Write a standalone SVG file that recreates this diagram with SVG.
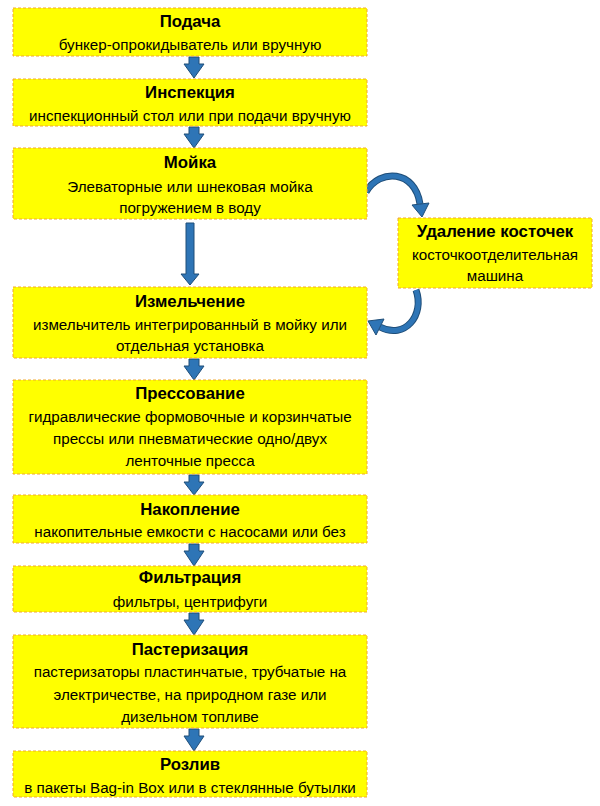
<svg xmlns="http://www.w3.org/2000/svg" width="600" height="806" viewBox="0 0 600 806">
<style>
.box{fill:#ffff00;stroke:#f0a830;stroke-width:1;stroke-dasharray:3,2}
.t{font-family:"Liberation Sans",Arial,sans-serif;font-size:16.8px;font-weight:bold;fill:#000;text-anchor:middle}
.s{font-family:"Liberation Sans",Arial,sans-serif;font-size:15.2px;fill:#000;text-anchor:middle}
.arr{fill:#2e75b6;stroke:#1f4e79;stroke-width:1}
.curve{fill:none;stroke:#2e75b6;stroke-width:5}
.curveo{fill:none;stroke:#1f4e79;stroke-width:7}
</style>
<rect width="600" height="806" fill="#fff"/>
<g id="connectors">
<polygon class="arr" points="189,57 199,57 199,64 204,64 194,78 184,64 189,64"/>
<polygon class="arr" points="189,127 199,127 199,134 204,134 194,148 184,134 189,134"/>
<polygon class="arr" points="186,223 194,223 194,274 199,274 190,285 181,274 186,274"/>
<polygon class="arr" points="189,359 199,359 199,366 204,366 194,380 184,366 189,366"/>
<polygon class="arr" points="189,475 199,475 199,482 204,482 194,495 184,482 189,482"/>
<polygon class="arr" points="189,544 199,544 199,551 204,551 194,566 184,551 189,551"/>
<polygon class="arr" points="189,613 199,613 199,620 204,620 194,635 184,620 189,620"/>
<polygon class="arr" points="189,729 199,729 199,736 204,736 194,751 184,736 189,736"/>
<path class="curveo" d="M366,192 C380,168 415,170 420,204"/>
<path class="curve" d="M366,192 C380,168 415,170 420,204"/>
<polygon class="arr" points="429,203 412,205 422,217"/>
<path class="curveo" d="M416,290 C425,315 405,340 380,327"/>
<path class="curve" d="M416,290 C425,315 405,340 380,327"/>
<polygon class="arr" points="384,319 376,335 368,321"/>
</g>
<g id="n1"><rect class="box" x="13" y="8" width="354" height="48"/><text class="t" x="190" y="27">Подача</text><text class="s" x="190" y="50">бункер-опрокидыватель или вручную</text></g>
<g id="n2"><rect class="box" x="13" y="79" width="354" height="47"/><text class="t" x="190" y="98">Инспекция</text><text class="s" x="190" y="121">инспекционный стол или при подачи вручную</text></g>
<g id="n3"><rect class="box" x="13" y="148" width="354" height="71"/><text class="t" x="190" y="168">Мойка</text><text class="s" x="190" y="192">Элеваторные или шнековая мойка</text><text class="s" x="190" y="213">погружением в воду</text></g>
<g id="n4"><rect class="box" x="13" y="287" width="354" height="71"/><text class="t" x="190" y="307">Измельчение</text><text class="s" x="190" y="330">измельчитель интегрированный в мойку или</text><text class="s" x="190" y="351">отдельная установка</text></g>
<g id="n5"><rect class="box" x="13" y="380" width="354" height="94"/><text class="t" x="190" y="399">Прессование</text><text class="s" x="190" y="422">гидравлические формовочные и корзинчатые</text><text class="s" x="190" y="444">прессы или пневматические одно/двух</text><text class="s" x="190" y="466">ленточные пресса</text></g>
<g id="n6"><rect class="box" x="13" y="495" width="354" height="48"/><text class="t" x="190" y="515">Накопление</text><text class="s" x="190" y="537">накопительные емкости с насосами или без</text></g>
<g id="n7"><rect class="box" x="13" y="566" width="354" height="46"/><text class="t" x="190" y="583">Фильтрация</text><text class="s" x="190" y="607">фильтры, центрифуги</text></g>
<g id="n8"><rect class="box" x="13" y="635" width="354" height="93"/><text class="t" x="190" y="655">Пастеризация</text><text class="s" x="190" y="677">пастеризаторы пластинчатые, трубчатые на</text><text class="s" x="190" y="700">электричестве, на природном газе или</text><text class="s" x="190" y="722">дизельном топливе</text></g>
<g id="n9"><rect class="box" x="13" y="751" width="354" height="46"/><text class="t" x="190" y="770">Розлив</text><text class="s" x="190" y="793">в пакеты Bag-in Box или в стеклянные бутылки</text></g>
<g id="side"><rect class="box" x="398" y="218" width="194" height="70"/><text class="t" x="495" y="237">Удаление косточек</text><text class="s" x="495" y="260">косточкоотделительная</text><text class="s" x="495" y="281">машина</text></g>
</svg>
